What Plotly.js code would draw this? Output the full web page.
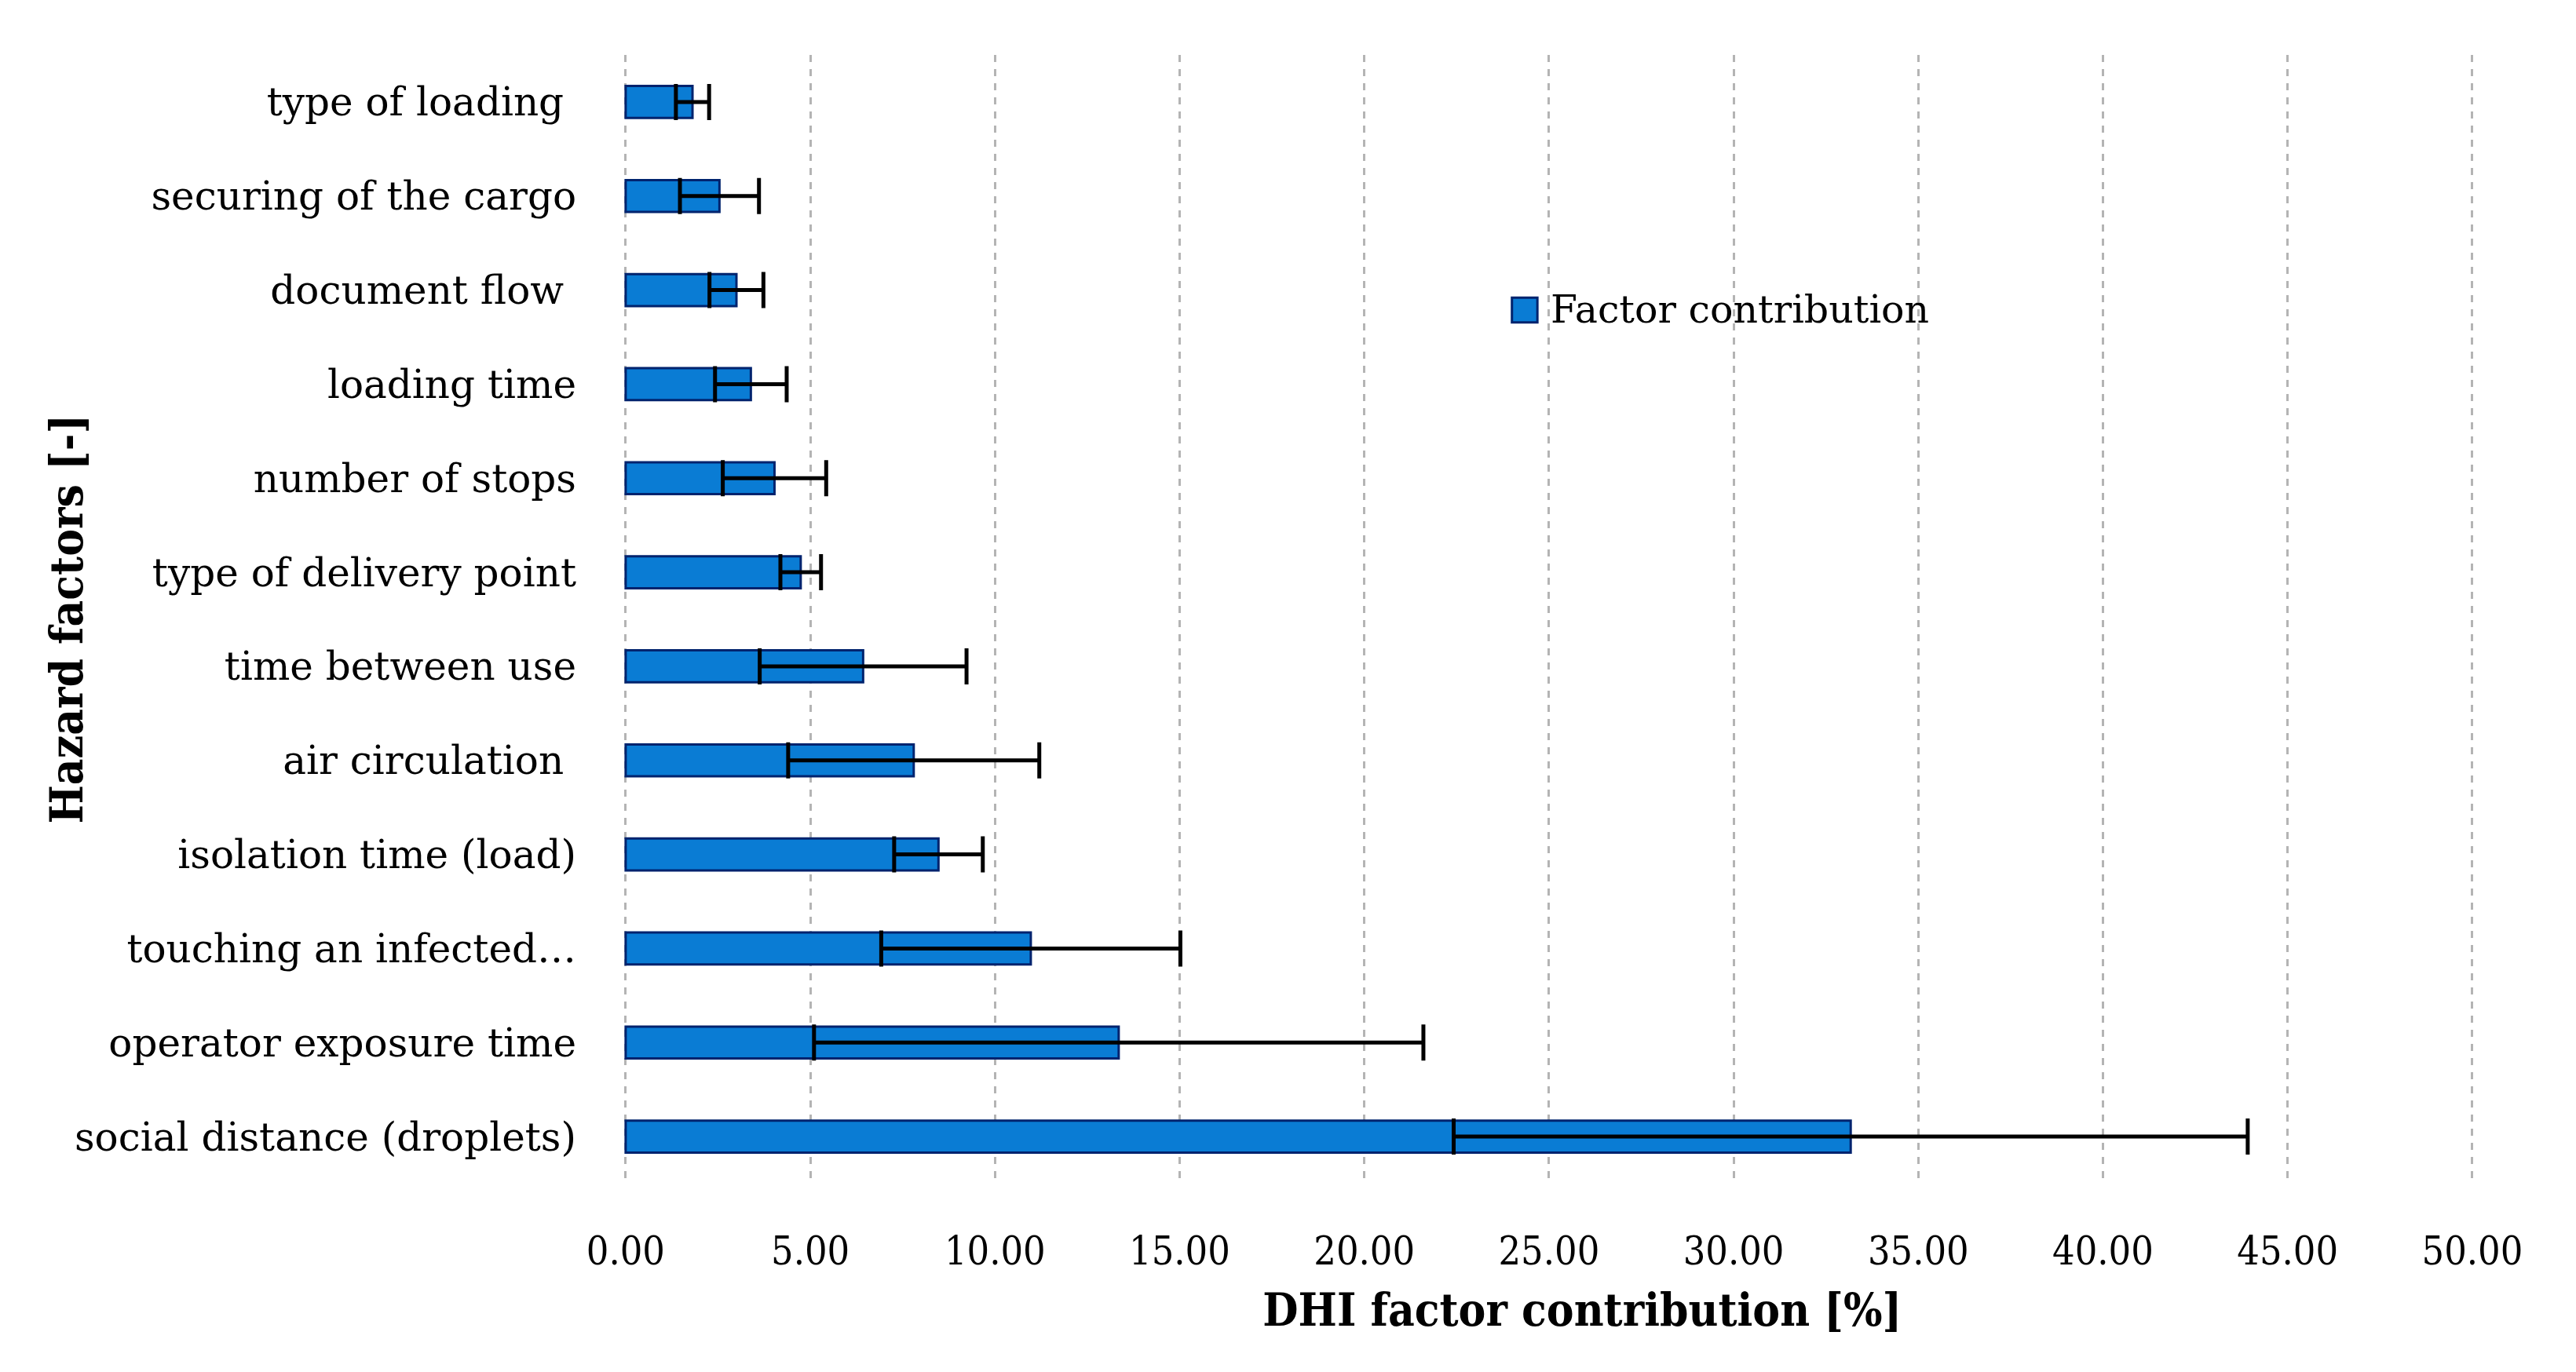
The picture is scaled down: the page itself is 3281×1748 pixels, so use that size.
<!DOCTYPE html>
<html>
<head>
<meta charset="utf-8">
<script src="https://cdn.plot.ly/plotly-3.0.1.min.js"></script>
<style>html,body{margin:0;padding:0;background:#fff;}#chart{width:3281px;height:1748px;}</style>
</head>
<body>
<div id="chart"></div>
<script>
// Categories listed top to bottom
var categories = [
  "type of loading ",
  "securing of the cargo",
  "document flow ",
  "loading time",
  "number of stops",
  "type of delivery point",
  "time between use",
  "air circulation ",
  "isolation time (load)",
  "touching an infected\u2026",
  "operator exposure time",
  "social distance (droplets)"
];
var contribution = [1.81, 2.54, 3.00, 3.39, 4.03, 4.74, 6.43, 7.80, 8.47, 10.97, 13.35, 33.17];
var errorValues  = [0.45, 1.07, 0.73, 0.97, 1.40, 0.55, 2.80, 3.40, 1.20, 4.05, 8.25, 10.75];
var xTickValues = [0, 5, 10, 15, 20, 25, 30, 35, 40, 45, 50];
var xTickLabels = ["0.00", "5.00", "10.00", "15.00", "20.00", "25.00", "30.00", "35.00", "40.00", "45.00", "50.00"];
var seriesName = "Factor contribution";

var serif = "DejaVu Serif, Liberation Serif, serif";
var serifCond = "DejaVu Serif Condensed, DejaVu Serif, Liberation Serif, serif";
var barColor = "#0a7cd4";
var barEdge = "#00236e";

var trace = {
  type: "bar",
  orientation: "h",
  name: seriesName,
  y: categories,
  x: contribution,
  width: 0.34,
  marker: { color: barColor, line: { color: barEdge, width: 3 } },
  error_x: { type: "data", array: errorValues, visible: true, color: "#000000", thickness: 5, width: 23 },
  showlegend: false
};

var layout = {
  width: 3281,
  height: 1748,
  paper_bgcolor: "#ffffff",
  plot_bgcolor: "#ffffff",
  margin: { l: 795, r: 118, t: 70, b: 240 },
  font: { family: serif, size: 50, color: "#000000" },
  showlegend: false,
  xaxis: {
    range: [-0.04, 50.3],
    tickvals: xTickValues,
    ticktext: xTickLabels,
    showgrid: true,
    gridcolor: "#b4b4b4",
    gridwidth: 3,
    griddash: "dash",
    zeroline: false,
    showline: false,
    ticks: "",
    ticklabelstandoff: 52,
    tickfont: { family: serifCond, size: 50, color: "#000000" },
    title: { text: "<b>\u00a0\u00a0\u00a0\u00a0DHI factor contribution [%]</b>", font: { family: serifCond, size: 58, color: "#000000" }, standoff: 26 }
  },
  yaxis: {
    type: "category",
    autorange: "reversed",
    showgrid: false,
    zeroline: false,
    showline: false,
    ticks: "",
    ticklabelstandoff: 60,
    tickfont: { family: serif, size: 50, color: "#000000" }
  },
  bargap: 0.66,
  shapes: [
    { type: "rect", xref: "paper", yref: "paper", x0: 0.4775, x1: 0.4912, y0: 0.763, y1: 0.785,
      fillcolor: barColor, line: { color: barEdge, width: 3 } }
  ],
  annotations: [
    { text: seriesName, xref: "paper", yref: "paper", x: 0.4975, y: 0.774, xanchor: "left", yanchor: "middle",
      showarrow: false, font: { family: serif, size: 49, color: "#000000" } },
    { text: "<b>Hazard factors [-]</b>", xref: "paper", yref: "paper", x: -0.3, y: 0.5, xanchor: "center", yanchor: "middle",
      textangle: -90, showarrow: false, font: { family: serifCond, size: 58, color: "#000000" } }
  ]
};

Plotly.newPlot("chart", [trace], layout, { displayModeBar: false, staticPlot: true });
</script>
</body>
</html>
